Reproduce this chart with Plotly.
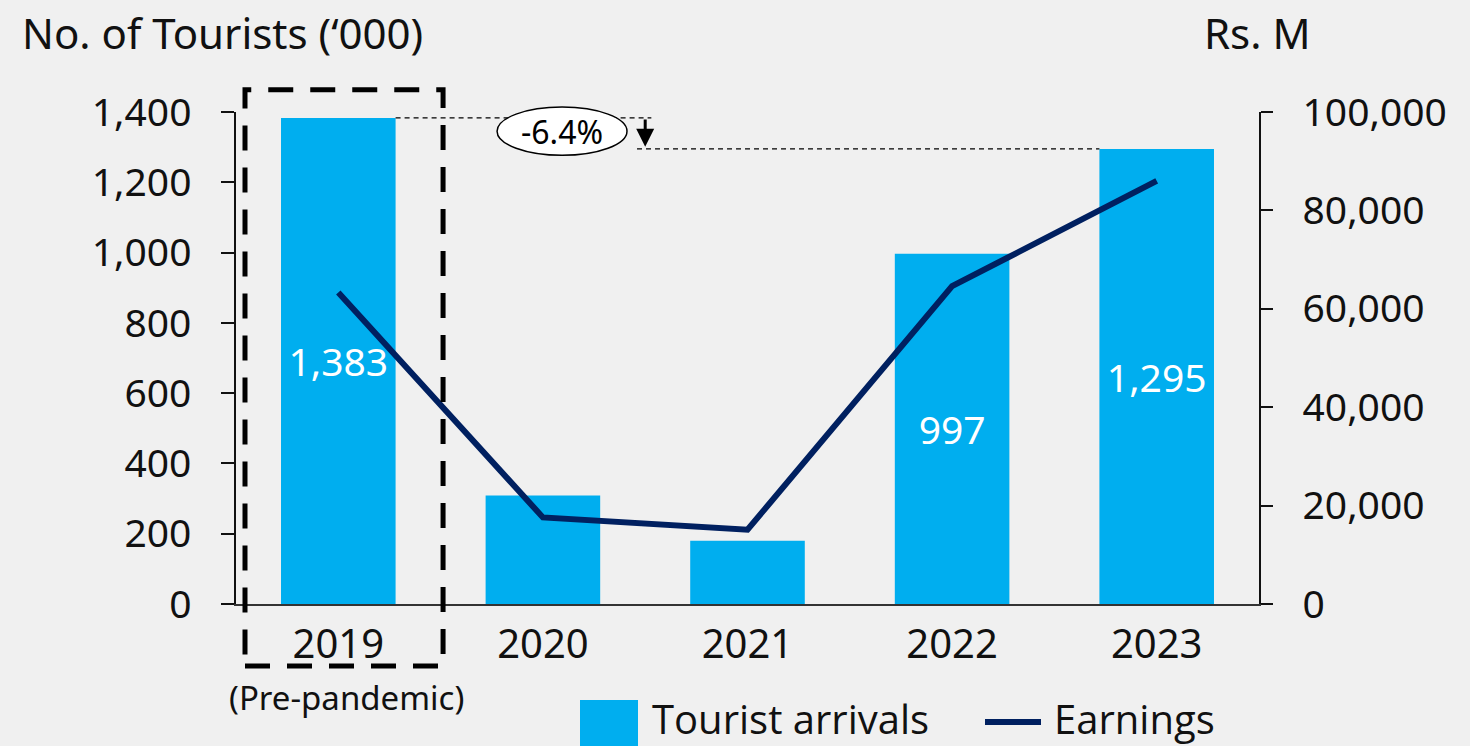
import plotly.graph_objects as go

# Tourist arrivals ('000) and tourism earnings (Rs. M) by year
years = ["2019", "2020", "2021", "2022", "2023"]
arrivals = [1383, 309, 180, 997, 1295]
earnings = [63300, 17600, 15100, 64600, 86000]
bar_labels = ["1,383", "", "", "997", "1,295"]
left_ticks = [0, 200, 400, 600, 800, 1000, 1200, 1400]
right_ticks = [0, 20000, 40000, 60000, 80000, 100000]

BAR_BLUE = "#00AEEF"
NAVY = "#002060"
BG = "#F0F0F0"
FONT = "Noto Sans"

change = (arrivals[-1] - arrivals[0]) / arrivals[0] * 100

fig = go.Figure()

fig.add_trace(go.Bar(
    x=years, y=arrivals, name="Tourist arrivals",
    marker=dict(color=BAR_BLUE, line=dict(width=0)),
    text=bar_labels, textposition="inside", insidetextanchor="middle",
    textfont=dict(color="white", size=39, family=FONT),
    showlegend=False,
))

fig.add_trace(go.Scatter(
    x=years, y=earnings, name="Earnings", yaxis="y2",
    mode="lines", line=dict(color=NAVY, width=6),
    showlegend=False,
))

fig.update_layout(
    width=1470, height=746,
    margin=dict(l=236, r=211, t=112, b=142),
    paper_bgcolor=BG, plot_bgcolor=BG,
    font=dict(family=FONT, color="#111111", size=38),
    bargap=0.44,
    xaxis=dict(
        type="category", range=[-0.5, 4.5],
        showline=True, linecolor="#333333", linewidth=2,
        ticks="", showgrid=False, zeroline=False,
        tickfont=dict(size=40), ticklabelstandoff=4,
    ),
    yaxis=dict(
        range=[0, 1400], tickvals=left_ticks, tickformat=",d",
        showline=True, linecolor="#111111", linewidth=1.5,
        ticks="outside", ticklen=13, tickcolor="#111111", tickwidth=1.5,
        showgrid=False, zeroline=False,
        tickfont=dict(size=39), ticklabelstandoff=22,
    ),
    yaxis2=dict(
        overlaying="y", side="right", range=[0, 100000],
        tickvals=right_ticks, tickformat=",d",
        showline=True, linecolor="#111111", linewidth=1.5,
        ticks="outside", ticklen=12, tickcolor="#111111", tickwidth=1.5,
        showgrid=False, zeroline=False,
        tickfont=dict(size=39), ticklabelstandoff=22,
    ),
)

shapes = [
    # dashed frame around the pre-pandemic year
    dict(type="rect", xref="x", yref="paper", x0=-0.456, x1=0.512, y0=-0.126, y1=1.045,
         line=dict(color="#000000", width=5, dash="25px,17px"), fillcolor="rgba(0,0,0,0)",
         layer="above"),
    # reference levels for 2019 and 2023 arrivals
    dict(type="line", xref="x", yref="y", x0=0.28, x1=1.53, y0=arrivals[0], y1=arrivals[0],
         line=dict(color="#000000", width=1.2, dash="5px,4px")),
    dict(type="line", xref="x", yref="y", x0=1.46, x1=3.72, y0=arrivals[-1], y1=arrivals[-1],
         line=dict(color="#000000", width=1.2, dash="5px,4px")),
    # ellipse around the change label
    dict(type="circle", xref="x", yref="paper", x0=0.776, x1=1.411, y0=0.912, y1=1.01,
         line=dict(color="#000000", width=1.5), fillcolor="#FFFFFF", layer="above"),
]

# custom legend at the bottom
shapes += [
    dict(type="rect", xref="paper", yref="paper", x0=(580 - 236) / 1023, x1=(638 - 236) / 1023,
         y0=(604 - 760) / 492, y1=(604 - 700) / 492, fillcolor=BAR_BLUE, line=dict(width=0)),
    dict(type="line", xref="paper", yref="paper", x0=(985 - 236) / 1023, x1=(1041 - 236) / 1023,
         y0=(604 - 722) / 492, y1=(604 - 722) / 492, line=dict(color=NAVY, width=6)),
]
fig.update_layout(shapes=shapes)

annotations = [
    dict(xref="paper", yref="paper", x=(20 - 236) / 1023, y=(604 - 33) / 492,
         text="No. of Tourists (‘000)", showarrow=False, xanchor="left", yanchor="middle",
         font=dict(size=42)),
    dict(xref="paper", yref="paper", x=(1313 - 236) / 1023, y=(604 - 33) / 492,
         text="Rs. M", showarrow=False, xanchor="right", yanchor="middle",
         font=dict(size=42)),
    dict(xref="x", yref="paper", x=0.04, y=(604 - 697) / 492,
         text="(Pre-pandemic)", showarrow=False, xanchor="center", yanchor="middle",
         font=dict(size=33)),
    dict(xref="x", yref="paper", x=(0.776 + 1.411) / 2, y=(0.912 + 1.01) / 2,
         text=f"{change:.1f}%", showarrow=False, xanchor="center", yanchor="middle",
         font=dict(size=32, color="#000000")),
    # downward arrow from 2019 level to 2023 level
    dict(xref="x", yref="y", axref="x", ayref="y", x=1.5, y=arrivals[-1] + 6,
         ax=1.5, ay=arrivals[0], text="", showarrow=True, arrowhead=2,
         arrowsize=1.2, arrowwidth=3, arrowcolor="#000000", standoff=0),
    dict(xref="paper", yref="paper", x=(650 - 236) / 1023, y=(604 - 718) / 492,
         text="Tourist arrivals", showarrow=False, xanchor="left", yanchor="middle",
         font=dict(size=40, family="Open Sans")),
    dict(xref="paper", yref="paper", x=(1052 - 236) / 1023, y=(604 - 718) / 492,
         text="Earnings", showarrow=False, xanchor="left", yanchor="middle",
         font=dict(size=40, family="Open Sans")),
]
fig.update_layout(annotations=annotations)

fig.write_html("out.html")
